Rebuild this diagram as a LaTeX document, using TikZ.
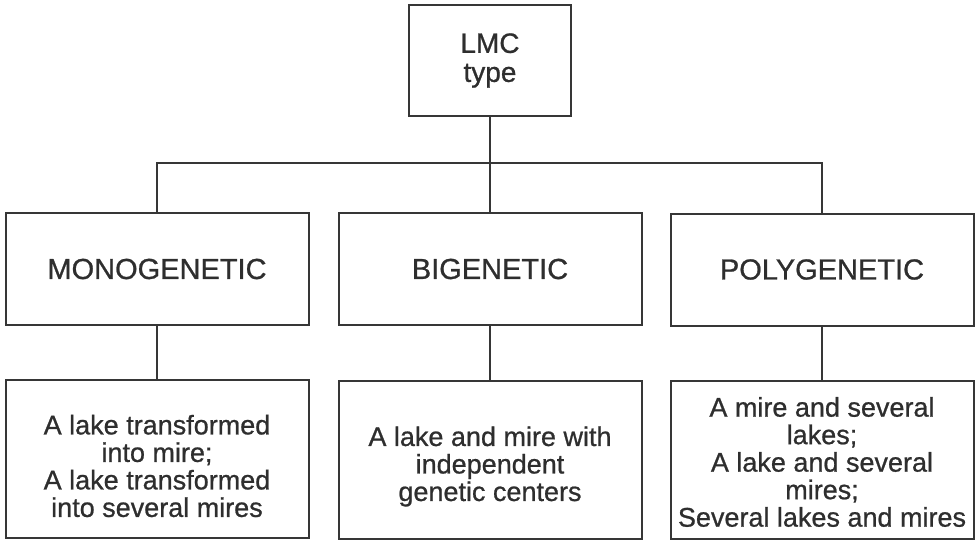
\documentclass[tikz,border=0pt]{standalone}
\usepackage{fontspec}
\setmainfont[FakeBold=0.8]{Liberation Sans}
\definecolor{ink}{HTML}{2E2E2E}
\definecolor{frame}{HTML}{363636}
\begin{document}
\begin{tikzpicture}[x=1pt,y=-1pt,
  box/.style={draw=frame,line width=2pt,inner sep=0pt,align=center,text=ink},
  topbox/.style={box,minimum width=162pt,minimum height=111pt,font=\fontsize{28}{29}\selectfont},
  midbox/.style={box,minimum width=303pt,minimum height=112pt,font=\fontsize{29}{30}\selectfont},
  lowbox/.style={box,minimum width=303pt,minimum height=158pt},
  lowtext/.style={inner sep=0pt,align=center,text=ink,font=\fontsize{27}{27.5}\selectfont},
  link/.style={draw=frame,line width=2pt}]
\useasboundingbox (0,0) rectangle (975,541);
\node[topbox] (top) at (490,60.5) {LMC\\type};
\node[midbox] (m1) at (157,269) {MONOGENETIC};
\node[midbox] (m2) at (490,269) {BIGENETIC};
\node[midbox] (m3) at (822,269.5) {POLYGENETIC};
\node[lowbox] (b1) at (157,459) {};
\node[lowbox] (b2) at (490,459.5) {};
\node[lowbox] (b3) at (822,460) {};
\node[lowtext] (t1) at ([yshift=-7pt]b1.center) {A lake transformed\\into mire;\\A lake transformed\\into several mires};
\node[lowtext] (t2) at ([yshift=-7pt]b2.center) {A lake and mire with\\independent\\genetic centers};
\node[lowtext] (t3) at ([yshift=-2pt]b3.center) {A mire and several\\lakes;\\A lake and several\\mires;\\Several lakes and mires};
\coordinate (bar) at (0,163);
\draw[link] (top.south) -- (m2.north);
\draw[link] (m1.north) -- (m1.north |- bar) -- (m3.north |- bar) -- (m3.north);
\draw[link] (m1.south) -- (b1.north);
\draw[link] (m2.south) -- (b2.north);
\draw[link] (m3.south) -- (b3.north);
\end{tikzpicture}
\end{document}
